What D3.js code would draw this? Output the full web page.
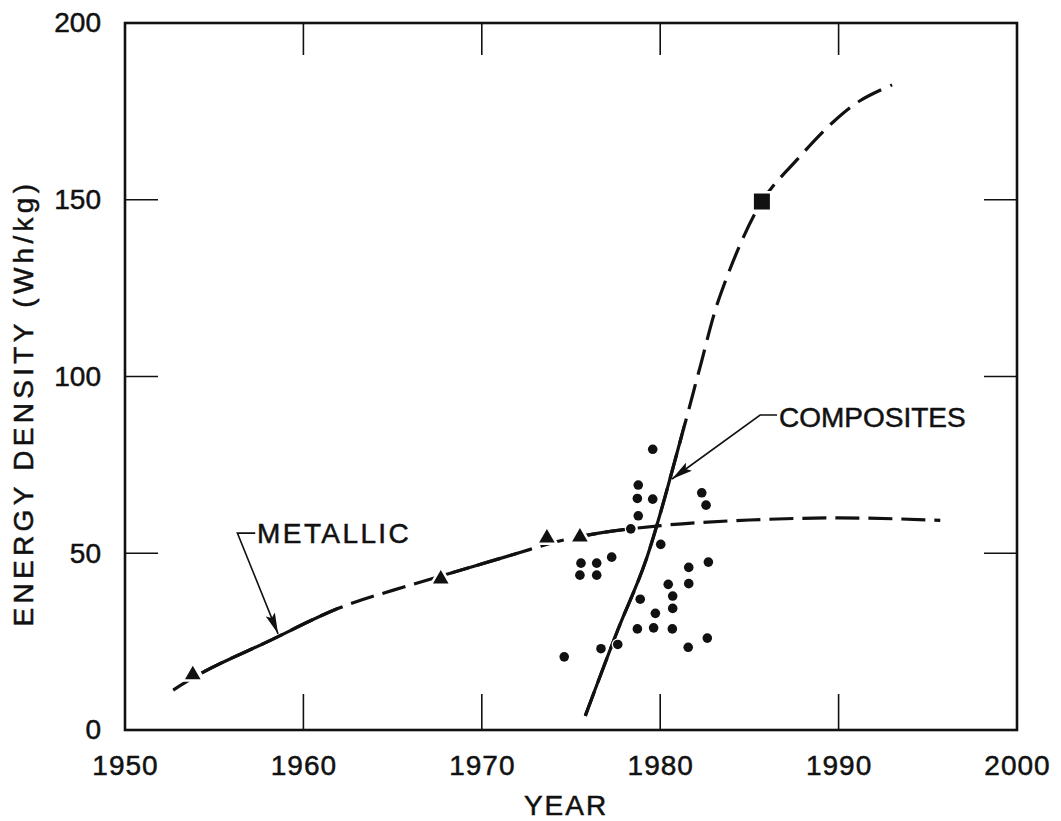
<!DOCTYPE html>
<html>
<head>
<meta charset="utf-8">
<title>Energy density by year</title>
<script src="https://cdn.jsdelivr.net/npm/d3@7/dist/d3.min.js"></script>
<style>
	body { margin: 0; background: #fff; }
	text { font-family: "Liberation Sans", Arial, Helvetica, sans-serif; fill: #111; stroke: #111; stroke-width: 0.5px; }
</style>
</head>
<body>
<svg id="chart" width="1061" height="821"></svg>
<script>
// ticks
var xTicks = [1950, 1960, 1970, 1980, 1990, 2000];
var yTicks = [0, 50, 100, 150, 200];
var innerX = [1960, 1970, 1980, 1990];
var innerY = [50, 100, 150];

// metallic trend (year, Wh/kg) and its measured points
var metallicCurve = [[1952.7, 11.3], [1954, 15.3], [1958, 25], [1962, 34.5], [1966, 41], [1968, 44],
	[1972, 50], [1974, 53], [1976, 55.2], [1980, 57.8], [1985, 59.4], [1990, 60], [1995.7, 59.3]];
var metallicSolid = [[1954.4, 1961.9], [1968.3, 1972], [1975.8, 1978.3]];
var metallicPoints = [[1953.8, 15.6], [1967.7, 42.7], [1973.65, 54.3], [1975.5, 54.6]];

// composites trend and points
var compositeCurve = [[1975.8, 4], [1977.6, 28], [1979.2, 48], [1981.3, 85], [1982.2, 102], [1983.4, 123.5],
	[1985.7, 149.5], [1987.7, 161.5], [1989.7, 172], [1991.2, 178], [1993, 182.5]];
var compositeSolid = [[1975.7, 1981.3]];
var compositeSquare = [[1985.7, 149.5]];
var compositeDots = [[1979.58, 79.4], [1978.77, 69.3], [1978.72, 65.5], [1979.58, 65.3], [1978.77, 60.6],
	[1978.35, 56.9], [1982.33, 67.1], [1982.57, 63.6], [1980.03, 52.5], [1977.28, 48.9], [1975.56, 47.2],
	[1976.44, 47.2], [1975.5, 43.8], [1976.44, 43.8], [1982.7, 47.5], [1981.6, 46.0], [1981.6, 41.4],
	[1980.45, 41.2], [1980.7, 37.9], [1980.7, 34.4], [1978.88, 37.0], [1979.73, 33.0], [1978.72, 28.6],
	[1979.63, 28.9], [1980.68, 28.6], [1977.62, 24.2], [1976.68, 23.0], [1974.62, 20.7], [1981.57, 23.4],
	[1982.64, 26.0]];

// callouts: text anchor and leader (elbow then arrow tip)
var callouts = [
	{ text: 'METALLIC', at: [1957.35, 52.9], spacing: 2.4, leader: [[1957.3, 55.7], [1956.3, 55.7], [1958.58, 27.2]] },
	{ text: 'COMPOSITES', at: [1986.6, 85.7], spacing: 0, leader: [[1986.55, 89.1], [1985.6, 89.1], [1980.66, 71.0]] }
];

var svg = d3.select('#chart'),
	mLeft = 125, mRight = 1017, mTop = 23, mBottom = 730;

var x = d3.scaleLinear().domain([1950, 2000]).range([mLeft, mRight]);
var y = d3.scaleLinear().domain([0, 200]).range([mBottom, mTop]);

var defs = svg.append('defs');
defs.append('marker')
	.attr('id', 'arrow')
	.attr('markerUnits', 'userSpaceOnUse')
	.attr('markerWidth', 22).attr('markerHeight', 10)
	.attr('refX', 21).attr('refY', 5)
	.attr('orient', 'auto')
	.append('path')
	.attr('d', 'M0,0 L21,5 L0,10 L4,5 Z')
	.attr('fill', '#111');

// axes
svg.append('g')
	.attr('transform', 'translate(0,' + mBottom + ')')
	.call(d3.axisBottom(x).tickValues(xTicks).tickSize(0).tickPadding(25).tickFormat(d3.format('d')))
	.call(g => g.select('.domain').remove())
	.selectAll('text').attr('font-size', 28).style('letter-spacing', '1px')
	.attr('font-family', null);

svg.append('g')
	.attr('transform', 'translate(' + mLeft + ',0)')
	.call(d3.axisLeft(y).tickValues(yTicks).tickSize(0).tickPadding(24))
	.call(g => g.select('.domain').remove())
	.selectAll('text').attr('font-size', 28)
	.attr('font-family', null);

var ticks = svg.append('g').attr('stroke', '#111').attr('stroke-width', 1.6);
ticks.selectAll('.tb').data(innerX).enter().append('line')
	.attr('x1', d => x(d)).attr('x2', d => x(d)).attr('y1', mBottom).attr('y2', mBottom - 36);
ticks.selectAll('.tt').data(innerX).enter().append('line')
	.attr('x1', d => x(d)).attr('x2', d => x(d)).attr('y1', mTop).attr('y2', mTop + 32);
ticks.selectAll('.tl').data(innerY).enter().append('line')
	.attr('x1', mLeft).attr('x2', mLeft + 33).attr('y1', d => y(d)).attr('y2', d => y(d));
ticks.selectAll('.tr').data(innerY).enter().append('line')
	.attr('x1', mRight - 33).attr('x2', mRight).attr('y1', d => y(d)).attr('y2', d => y(d));

svg.append('rect')
	.attr('x', mLeft).attr('y', mTop)
	.attr('width', mRight - mLeft).attr('height', mBottom - mTop)
	.attr('fill', 'none').attr('stroke', '#111').attr('stroke-width', 2.6);

svg.append('text')
	.attr('x', (mLeft + mRight) / 2 - 5).attr('y', 815)
	.attr('text-anchor', 'middle')
	.attr('font-size', 28).style('letter-spacing', '2px')
	.text('YEAR');

svg.append('text')
	.attr('transform', 'translate(33,403) rotate(-90)')
	.attr('text-anchor', 'middle')
	.attr('font-size', 28).style('letter-spacing', '4.3px')
	.text('ENERGY DENSITY (Wh/kg)');

// curves: dashed everywhere, solid where clipped
function drawCurve(id, data, solid, dash, curve) {
	var line = d3.line().x(d => x(d[0])).y(d => y(d[1])).curve(curve);
	var clip = defs.append('clipPath').attr('id', id);
	solid.forEach(s => clip.append('rect')
		.attr('x', x(s[0])).attr('width', x(s[1]) - x(s[0]))
		.attr('y', 0).attr('height', 821));
	svg.append('path').datum(data)
		.attr('d', line).attr('fill', 'none')
		.attr('stroke', '#111').attr('stroke-width', 3.2)
		.attr('stroke-dasharray', dash);
	svg.append('path').datum(data)
		.attr('d', line).attr('fill', 'none')
		.attr('stroke', '#111').attr('stroke-width', 3.2)
		.attr('clip-path', 'url(#' + id + ')');
}
drawCurve('metal-solid', metallicCurve, metallicSolid, '24,9', d3.curveMonotoneX);
drawCurve('comp-solid', compositeCurve, compositeSolid, '26,10', d3.curveCatmullRom.alpha(0.5));

// callouts
callouts.forEach(c => {
	svg.append('path')
		.datum(c.leader)
		.attr('d', d3.line().x(d => x(d[0])).y(d => y(d[1])))
		.attr('fill', 'none').attr('stroke', '#111').attr('stroke-width', 1.6)
		.attr('marker-end', 'url(#arrow)');
	svg.append('text')
		.attr('x', x(c.at[0]) + 1).attr('y', y(c.at[1]))
		.attr('font-size', 28).style('letter-spacing', c.spacing + 'px')
		.text(c.text);
});

// markers
svg.selectAll('.dot').data(compositeDots).enter().append('circle')
	.attr('cx', d => x(d[0])).attr('cy', d => y(d[1])).attr('r', 4.8)
	.attr('fill', '#111').attr('stroke', '#fff').attr('stroke-width', 2.5)
	.style('paint-order', 'stroke');

svg.selectAll('.tri').data(metallicPoints).enter().append('path')
	.attr('transform', d => 'translate(' + x(d[0]) + ',' + y(d[1]) + ')')
	.attr('d', d3.symbol(d3.symbolTriangle, 105))
	.attr('fill', '#111').attr('stroke', '#fff').attr('stroke-width', 5)
	.style('paint-order', 'stroke');

svg.selectAll('.sq').data(compositeSquare).enter().append('path')
	.attr('transform', d => 'translate(' + x(d[0]) + ',' + y(d[1]) + ')')
	.attr('d', d3.symbol(d3.symbolSquare, 256))
	.attr('fill', '#111').attr('stroke', '#fff').attr('stroke-width', 5)
	.style('paint-order', 'stroke');
</script>
</body>
</html>
